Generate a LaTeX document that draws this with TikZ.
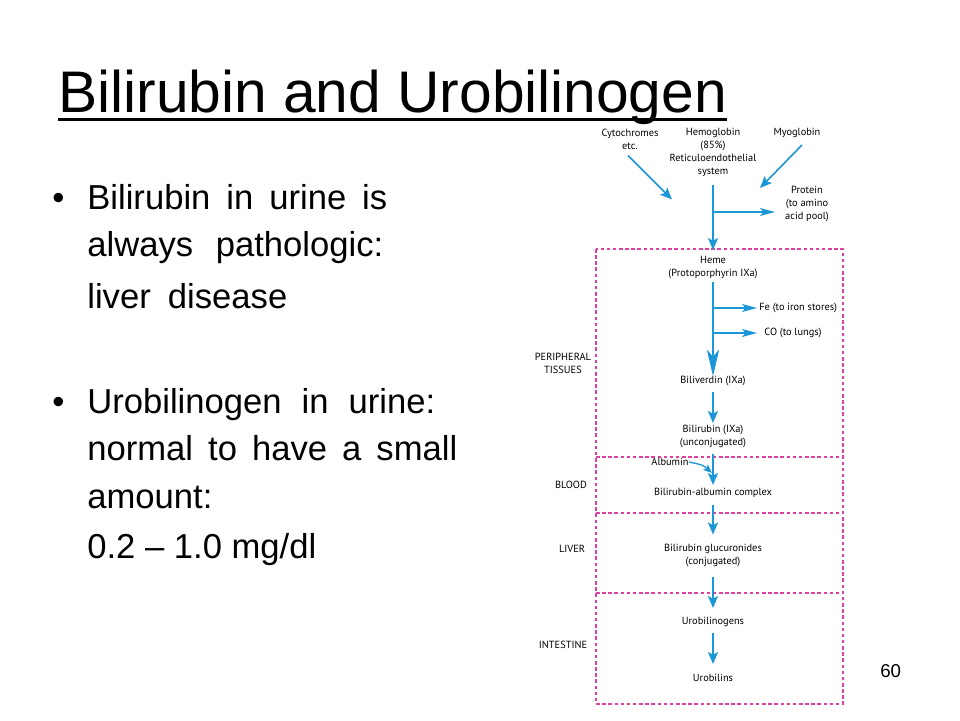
\documentclass[tikz,border=0pt]{standalone}
\usepackage{fontspec}
\setmainfont{Liberation Sans}
\newfontfamily\dfam{PT Sans}
\usetikzlibrary{arrows.meta,calc}
\definecolor{arrblue}{RGB}{27,150,214}
\definecolor{boxpink}{RGB}{222,64,160}
\newdimen\px
\px=0.56906pt
\begin{document}
\begin{tikzpicture}[x=0.02cm,y=-0.02cm,
  dtext/.style={font=\dfam\fontsize{5.9}{7.4}\selectfont, align=center, inner sep=0},
  body/.style={anchor=base west, inner sep=0, font=\fontsize{19.7}{24}\selectfont},
  flow/.style={draw=arrblue, line width=0.9pt, -{Stealth[length=6.8pt,width=5.7pt,inset=1.5pt]}},
  bigflow/.style={draw=arrblue, line width=0.9pt, -{Stealth[length=15pt,width=7pt,inset=4pt]}},
  side/.style={draw=arrblue, line width=0.9pt, -{Stealth[length=8.5pt,width=4.5pt,inset=2pt]}},
  zone/.style={draw=boxpink, line width=0.6pt, dash pattern=on 2pt off 1.5pt}]
\useasboundingbox (0,0) rectangle (960,720);
\fill[white] (0,0) rectangle (960,720);

% title
\node[anchor=base west, inner sep=0, font=\fontsize{33.4}{40}\selectfont] (title) at (58,112) {Bilirubin and Urobilinogen};
\draw[line width=1.8pt] ($(title.base west)+(0,7.5)$) -- ($(title.base east)+(0,7.5)$);

% bullets
\node[body] (d1) at (52,209) {\textbullet};
\node[body] (l1) at (87,209) {\makebox[300\px][s]{Bilirubin in urine is}};
\node[body] (l2) at (87,256) {\makebox[296\px][s]{always pathologic:}};
\node[body] (l3) at (87,308) {\makebox[200\px][s]{liver disease}};
\node[body] (d2) at (52,413) {\textbullet};
\node[body] (l4) at (87,413) {\makebox[348\px][s]{Urobilinogen in urine:}};
\node[body] (l5) at (87,460) {\makebox[370\px][s]{normal to have a small}};
\node[body] (l6) at (87,508) {amount:};
\node[body] (l7) at (87,558) {0.2 -- 1.0 mg/dl};

\node[anchor=base west, inner sep=0, font=\fontsize{10.6}{12}\selectfont] (pg) at (880,677) {60};

% zones
\draw[zone] (596,249) rectangle (843,704);
\coordinate (z1l) at (596,457); \coordinate (z1r) at (843,457);
\coordinate (z2l) at (596,513); \coordinate (z2r) at (843,513);
\coordinate (z3l) at (596,593); \coordinate (z3r) at (843,593);
\draw[zone] (z1l) -- (z1r);
\draw[zone] (z2l) -- (z2r);
\draw[zone] (z3l) -- (z3r);

% region labels
\node[dtext] (periph) at (563,363) {PERIPHERAL\\TISSUES};
\node[dtext] (blood) at (571,485) {BLOOD};
\node[dtext] (liver) at (572,549) {LIVER};
\node[dtext] (intest) at (563,645) {INTESTINE};

% sources
\node[dtext] (cyto) at (630,139.5) {Cytochromes\\etc.};
\node[dtext] (hemo) at (713,152.5) {Hemoglobin\\(85\%)\\Reticuloendothelial\\system};
\node[dtext] (myo) at (797,133) {Myoglobin};
\node[dtext] (protein) at (807,203.5) {Protein\\(to amino\\acid pool)};

% pathway
\node[dtext] (heme) at (713,268) {Heme\\(Protoporphyrin IXa)};
\node[dtext, anchor=west] (fe) at (759,308) {Fe (to iron stores)};
\node[dtext, anchor=west] (co) at (764,333) {CO (to lungs)};
\node[dtext] (biliv) at (713,381) {Biliverdin (IXa)};
\node[dtext] (bilir) at (713,436) {Bilirubin (IXa)\\(unconjugated)};
\node[dtext] (albumin) at (670,462) {Albumin};
\node[dtext] (bac) at (713,493) {Bilirubin-albumin complex};
\node[dtext] (gluc) at (713,555.5) {Bilirubin glucuronides\\(conjugated)};
\node[dtext] (ubg) at (713,622) {Urobilinogens};
\node[dtext] (ubl) at (713,678) {Urobilins};

% arrows
\draw[flow] ($(cyto.center)+(-2,16)$) -- ($(cyto.center)+(42,60)$);
\draw[flow] ($(myo.center)+(5,12)$) -- ($(myo.center)+(-37,55)$);
\draw[flow] ($(hemo.center)+(0,32.5)$) -- ($(heme.center)+(0,-18)$);
\coordinate (pbr) at ($(hemo.center)+(0,59.5)$);
\draw[side] (pbr) -- ($(protein.center)+(-32,8.5)$);

\draw[bigflow] ($(heme.center)+(0,14)$) -- ($(biliv.center)+(0,-5)$);
\coordinate (febr) at ($(heme.center)+(0,40)$);
\coordinate (cobr) at ($(heme.center)+(0,65)$);
\draw[side] (febr) -- ($(fe.west)+(-2,0)$);
\draw[side] (cobr) -- ($(co.west)+(-7,0)$);

\draw[flow] ($(biliv.center)+(0,11)$) -- ($(bilir.center)+(0,-13)$);
\draw[flow] ($(bilir.center)+(0,18)$) -- ($(bac.center)+(0,-8)$);
\draw[draw=arrblue, line width=0.75pt, -{Stealth[length=5pt,width=4pt,inset=1pt]}] (albumin.east) .. controls ($(albumin.east)+(14,3)$) .. ($(bac.center)+(-1,-20)$);
\draw[flow] ($(bac.center)+(0,12)$) -- ($(gluc.center)+(0,-21)$);
\draw[flow] ($(gluc.center)+(0,21.5)$) -- ($(ubg.center)+(0,-14)$);
\draw[flow] ($(ubg.center)+(0,11)$) -- ($(ubl.center)+(0,-14)$);
\end{tikzpicture}
\end{document}
